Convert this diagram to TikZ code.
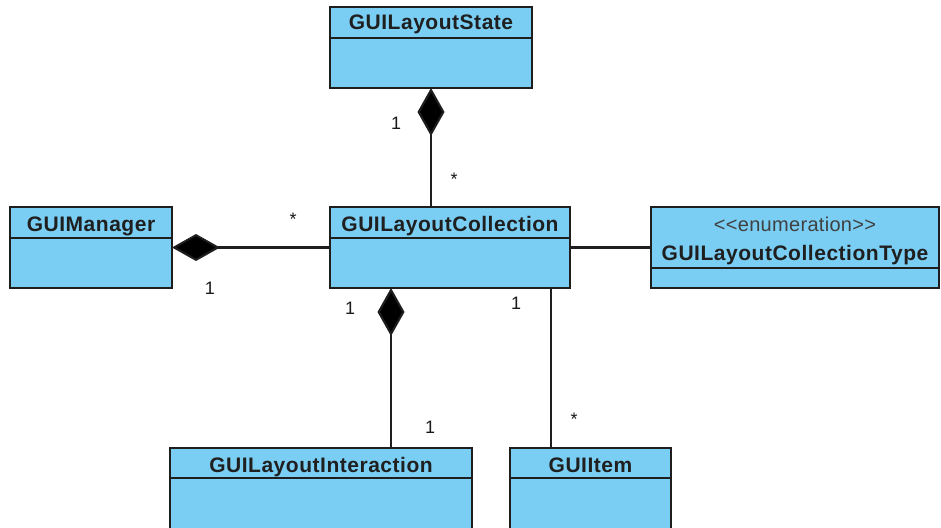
\documentclass[tikz,border=0pt]{standalone}
\usepackage{fontspec}
\setmainfont{Liberation Sans}
\newfontfamily\titlefont{Liberation Sans}[LetterSpace=2.5]
\newfontfamily\stereofont{Liberation Sans}[Ligatures=TeXOff,LetterSpace=1.5]
\usetikzlibrary{arrows.meta}
\definecolor{classfill}{RGB}{122,206,244}
\definecolor{edgecol}{RGB}{30,30,30}
\begin{document}
\begin{tikzpicture}[x=1pt,y=-1pt,
  classbox/.style={draw=edgecol, line width=1.9pt, fill=classfill, minimum height=81pt, inner sep=0pt, outer sep=0pt},
  title/.style={font=\titlefont\fontsize{21}{25}\selectfont\bfseries, text=black!88, inner sep=0pt, anchor=base},
  stereo/.style={font=\stereofont\fontsize{20}{24}\selectfont, text=black!75, inner sep=0pt, anchor=base},
  mult/.style={font=\fontsize{18}{22}\selectfont, text=black!90, inner sep=0pt},
  link/.style={draw=edgecol, line width=2.1pt},
  comp/.style={link, -{Diamond[length=48pt,width=27pt,fill=black,line join=miter]}},
  sepline/.style={draw=edgecol, line width=1.9pt}]
\clip (0,0) rectangle (941,527);
\fill[white] (0,0) rectangle (941,527);

% classes
\node[classbox, minimum width=202pt] (st) at (431,47.5) {};
\draw[sepline] ([yshift=-31pt]st.north west) -- ([yshift=-31pt]st.north east);
\node[title] (stT) at ([yshift=-23pt]st.north) {GUILayoutState};

\node[classbox, minimum width=162pt] (man) at (91,247.5) {};
\draw[sepline] ([yshift=-31pt]man.north west) -- ([yshift=-31pt]man.north east);
\node[title] (manT) at ([yshift=-24pt]man.north) {GUIManager};

\node[classbox, minimum width=240pt] (coll) at (450,247.5) {};
\draw[sepline] ([yshift=-31pt]coll.north west) -- ([yshift=-31pt]coll.north east);
\node[title] (collT) at ([yshift=-24pt]coll.north) {GUILayoutCollection};

\node[classbox, minimum width=288pt] (enum) at (795,247.5) {};
\draw[sepline] ([yshift=-61pt]enum.north west) -- ([yshift=-61pt]enum.north east);
\node[stereo] (enumS) at ([yshift=-24pt]enum.north) {<<enumeration>>};
\node[title] (enumT) at ([yshift=-53pt]enum.north) {GUILayoutCollectionType};

\node[classbox, minimum width=302pt] (inter) at (321,488.5) {};
\draw[sepline] ([yshift=-30pt]inter.north west) -- ([yshift=-30pt]inter.north east);
\node[title] (interT) at ([yshift=-24pt]inter.north) {GUILayoutInteraction};

\node[classbox, minimum width=161pt] (item) at (590.5,488.5) {};
\draw[sepline] ([yshift=-30pt]item.north west) -- ([yshift=-30pt]item.north east);
\node[title] (itemT) at ([yshift=-24pt]item.north) {GUIItem};

% connectors
\coordinate (cA) at ([xshift=-59pt]coll.south);
\coordinate (cB) at ([xshift=101pt]coll.south);
\draw[comp] (st.south |- coll.north) -- (st.south);
\draw[comp] (coll.west) -- (man.east);
\draw[comp] (cA |- inter.north) -- (cA);
\draw[link] (cB) -- (cB |- item.north);
\draw[link] (coll.east) -- (enum.west);

% multiplicities
\node[mult] (m1) at (396,123) {1};
\node[mult] (m2) at (454,179) {*};
\node[mult] (m3) at (293,219) {*};
\node[mult] (m4) at (210,288) {1};
\node[mult] (m5) at (350,308) {1};
\node[mult] (m6) at (516,303) {1};
\node[mult] (m7) at (430,427) {1};
\node[mult] (m8) at (574,419) {*};
\end{tikzpicture}
\end{document}
